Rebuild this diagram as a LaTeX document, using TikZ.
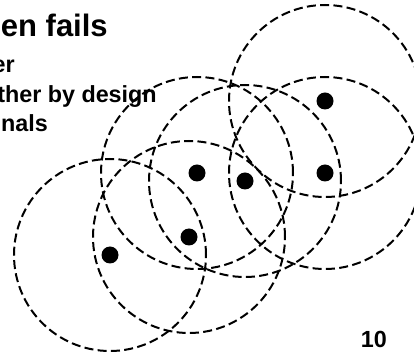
\documentclass[tikz,border=0pt]{standalone}
\usepackage{fontspec}
\setmainfont{Liberation Sans}
\usepackage{tikz}

\begin{document}
\begin{tikzpicture}[x=0.75pt, y=-0.75pt,
    sensor/.style={circle, fill=black, inner sep=0pt, minimum size=12.75pt},
    radiorange/.style={draw=black, line width=1.5pt, dash pattern=on 6.75pt off 3.25pt},
    slidetext/.style={inner sep=0pt, anchor=base east, font=\bfseries\fontsize{17.5}{21}\selectfont}]
  \useasboundingbox (0,0) rectangle (414,352);
  \clip (0,0) rectangle (414,352);
  \node[sensor] (s1) at (110,255) {};
  \node[sensor] (s2) at (189,237) {};
  \node[sensor] (s3) at (197,173) {};
  \node[sensor] (s4) at (245,181) {};
  \node[sensor] (s5) at (325,101) {};
  \node[sensor] (s6) at (325,173) {};
  \foreach \i in {1,...,6}
    \draw[radiorange] (s\i.center) circle[radius=72pt];
  \node[slidetext, font=\bfseries\fontsize{23.25}{28}\selectfont] (title) at (108,37) {en fails};
  \node[slidetext] (line1) at (15,73) {er};
  \node[slidetext] (line2) at (157,103) {ther by design};
  \node[slidetext] (line3) at (48,132) {nals};
  \node[slidetext] (page) at (387,348) {10};
\end{tikzpicture}
\end{document}
